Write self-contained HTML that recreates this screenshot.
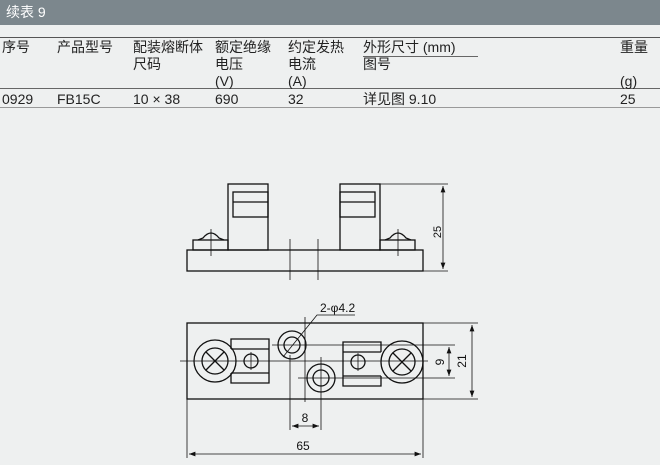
<!DOCTYPE html>
<html><head><meta charset="utf-8"><style>
body{margin:0;width:660px;height:465px;background:#eef0f0;overflow:hidden;font-family:"Liberation Sans","Noto Sans CJK SC",sans-serif;color:#222}
.hdr{position:absolute;left:0;top:0;width:660px;height:25px;background:#7c878d;color:#fff;font-size:14px;line-height:25px;padding-left:6px;box-sizing:border-box}
.t{position:absolute;font-size:14px;line-height:17px;white-space:nowrap}
.ln{position:absolute;left:0;width:660px;background:#555}
</style></head><body>
<div class="hdr">续表 9</div>
<div class="ln" style="top:37px;height:1px"></div>
<div class="ln" style="top:88px;height:1px;background:#666"></div>
<div class="ln" style="top:107px;height:1px;background:#999"></div>
<div style="position:absolute;left:363px;top:56px;width:115px;height:1px;background:#666"></div>
<div class="t" style="left:2px;top:39px">序号</div>
<div class="t" style="left:57px;top:39px">产品型号</div>
<div class="t" style="left:133px;top:39px">配装熔断体<br>尺码</div>
<div class="t" style="left:215px;top:39px">额定绝缘<br>电压<br>(V)</div>
<div class="t" style="left:288px;top:39px">约定发热<br>电流<br>(A)</div>
<div class="t" style="left:363px;top:39px">外形尺寸 (mm)<br>图号</div>
<div class="t" style="left:620px;top:39px">重量</div>
<div class="t" style="left:620px;top:73px">(g)</div>
<div class="t" style="left:2px;top:91px">0929</div>
<div class="t" style="left:57px;top:91px">FB15C</div>
<div class="t" style="left:133px;top:91px">10 × 38</div>
<div class="t" style="left:215px;top:91px">690</div>
<div class="t" style="left:288px;top:91px">32</div>
<div class="t" style="left:363px;top:91px">详见图 9.10</div>
<div class="t" style="left:620px;top:91px">25</div>
<svg width="660" height="465" style="position:absolute;left:0;top:0" fill="none" stroke="#111" stroke-width="1.3" font-family="Liberation Sans" font-size="11">
<defs><marker id="a" markerWidth="8" markerHeight="6" refX="8" refY="3" orient="auto-start-reverse"><path d="M0,0L8,3L0,6z" fill="#111" stroke="none"/></marker></defs>
<rect x="187" y="250" width="236" height="21"/>
<rect x="228" y="184" width="40" height="66"/><rect x="233" y="192" width="35" height="25"/><line x1="233" y1="202" x2="268" y2="202"/>
<rect x="340" y="184" width="40" height="66"/><rect x="340" y="192" width="35" height="25"/><line x1="340" y1="202" x2="375" y2="202"/>
<rect x="193" y="240" width="35" height="10"/><rect x="380" y="240" width="35" height="10"/>
<path d="M198,240L203,238Q211,228 219,238L224,240"/><path d="M385,240L390,238Q398,228 406,238L411,240"/>
<g stroke-width="0.8"><line x1="211" y1="229" x2="211" y2="256"/><line x1="398" y1="229" x2="398" y2="256"/>
<line x1="290" y1="239" x2="290" y2="280"/><line x1="318" y1="239" x2="318" y2="280"/>
<line x1="380" y1="184" x2="448" y2="184"/><line x1="423" y1="271" x2="448" y2="271"/>
<line x1="443" y1="186" x2="443" y2="269" marker-start="url(#a)" marker-end="url(#a)"/></g>
<text x="441" y="232" transform="rotate(-90 441 232)" fill="#111" stroke="none" text-anchor="middle">25</text>
<rect x="187" y="323" width="236" height="76"/>
<circle cx="215" cy="361" r="21"/><circle cx="215" cy="361" r="13"/><path d="M206,352L224,370M224,352L206,370"/>
<circle cx="402" cy="362" r="21"/><circle cx="402" cy="362" r="13"/><path d="M393,353L411,371M411,353L393,371"/>
<path d="M231,349V339H269V383H231V373M231,349H269M231,373H269"/>
<path d="M381,352V342H343V386H381V376M381,352H343M381,376H343"/>
<circle cx="251" cy="361" r="7"/><circle cx="358" cy="362" r="7"/>
<circle cx="292" cy="345" r="14"/><circle cx="292" cy="345" r="8"/>
<circle cx="321" cy="378" r="14"/><circle cx="321" cy="378" r="8"/>
<g stroke-width="0.8">
<line x1="180" y1="361" x2="428" y2="361"/>
<line x1="272" y1="345" x2="455" y2="345"/><line x1="298" y1="378" x2="455" y2="378"/>
<line x1="305" y1="317" x2="305" y2="402"/><line x1="290" y1="355" x2="290" y2="430"/><line x1="321" y1="357" x2="321" y2="430"/>
<line x1="251" y1="352" x2="251" y2="370"/><line x1="358" y1="353" x2="358" y2="371"/>
<line x1="292" y1="426" x2="319" y2="426" marker-start="url(#a)" marker-end="url(#a)"/>
<line x1="449" y1="347" x2="449" y2="376" marker-start="url(#a)" marker-end="url(#a)"/>
<line x1="423" y1="323" x2="478" y2="323"/><line x1="423" y1="399" x2="478" y2="399"/>
<line x1="472" y1="325" x2="472" y2="397" marker-start="url(#a)" marker-end="url(#a)"/>
<line x1="187" y1="399" x2="187" y2="458"/><line x1="423" y1="399" x2="423" y2="458"/>
<line x1="189" y1="454" x2="421" y2="454" marker-start="url(#a)" marker-end="url(#a)"/>
<path d="M355,315H317L283,357"/></g>
<g fill="#111" stroke="none" font-size="12"><text x="320" y="312">2-φ4.2</text><text x="305" y="422" text-anchor="middle">8</text>
<text x="303" y="450" text-anchor="middle">65</text>
<text x="444" y="362" transform="rotate(-90 444 362)" text-anchor="middle">9</text>
<text x="466" y="361" transform="rotate(-90 466 361)" text-anchor="middle">21</text></g>
</svg>
</body></html>
